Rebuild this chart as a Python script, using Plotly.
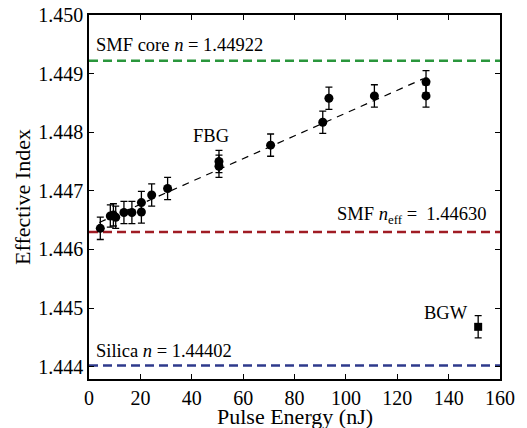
import plotly.graph_objects as go

# FBG data
fbg_energy = [4.4, 8.3, 9.5, 10.4, 13.6, 16.7, 20.4, 20.4, 24.4, 30.6, 50.6, 50.6, 70.7, 91.0, 93.4, 111.1, 131.2, 131.2]
fbg_index = [1.44636, 1.44657, 1.44659, 1.44655, 1.44663, 1.44663, 1.44680, 1.44664, 1.44693, 1.44704,
             1.44750, 1.44742, 1.44778, 1.44817, 1.44858, 1.44862, 1.44886, 1.44862]
fbg_err = [0.00019] * len(fbg_energy)

# BGW data
bgw_energy = [151.5]
bgw_index = [1.44468]
bgw_err = [0.00019]

# Linear fit (endpoints)
fit_energy = [4.0, 130.0]
fit_index = [1.44646, 1.44891]

# Reference lines
ref_values = [1.44922, 1.44630, 1.44402]
ref_colors = ["#2a963c", "#a01c24", "#2e3a8c"]

FONT = "Liberation Serif"

fig = go.Figure()

for v, c in zip(ref_values, ref_colors):
    fig.add_trace(go.Scatter(x=[0, 160], y=[v, v], mode="lines",
                             line=dict(color=c, width=2.5, dash="9px,5px"),
                             showlegend=False, hoverinfo="skip"))

fig.add_trace(go.Scatter(x=fit_energy, y=fit_index, mode="lines",
                         line=dict(color="black", width=1.2, dash="7px,6px"),
                         showlegend=False))

fig.add_trace(go.Scatter(x=fbg_energy, y=fbg_index, mode="markers",
                         marker=dict(symbol="circle", size=9, color="black"),
                         error_y=dict(type="data", array=fbg_err, color="black", thickness=1.3, width=3.5),
                         showlegend=False))

fig.add_trace(go.Scatter(x=bgw_energy, y=bgw_index, mode="markers",
                         marker=dict(symbol="square", size=8, color="black"),
                         error_y=dict(type="data", array=bgw_err, color="black", thickness=1.3, width=3.5),
                         showlegend=False))

ann_font = dict(family=FONT, size=18.5, color="black")
annotations = [
    dict(x=2, y=1.44922, text="SMF core <i>n</i> = 1.44922", xanchor="left", yanchor="bottom", yshift=4),
    dict(x=155.5, y=1.44630, text="SMF <i>n</i><sub>eff</sub> =  1.44630", xanchor="right", yanchor="bottom", yshift=3),
    dict(x=2, y=1.44402, text="Silica <i>n</i> = 1.44402", xanchor="left", yanchor="bottom", yshift=3),
    dict(x=55.3, y=1.44773, text="FBG", xanchor="right", yanchor="bottom"),
    dict(x=148.5, y=1.44471, text="BGW", xanchor="right", yanchor="bottom"),
]
for a in annotations:
    a.update(xref="x", yref="y", showarrow=False, font=ann_font)
annotations.append(dict(x=0.5, y=0, xref="paper", yref="paper", text="Pulse Energy (nJ)",
                        showarrow=False, xanchor="center", yanchor="middle", yshift=-37,
                        font=dict(family=FONT, size=22, color="black")))

axis_common = dict(showline=True, linecolor="black", linewidth=1.5, mirror="ticks",
                   ticks="inside", ticklen=5, tickwidth=1.2, tickcolor="black",
                   showgrid=False, zeroline=False, automargin=False,
                   tickfont=dict(family=FONT, size=20, color="black"))

fig.update_layout(
    width=527, height=428,
    font=dict(family=FONT, color="black"),
    margin=dict(l=89, r=27, t=15, b=49),
    plot_bgcolor="white", paper_bgcolor="white",
    annotations=annotations,
    xaxis=dict(range=[0, 160], tickmode="array", tickvals=list(range(0, 161, 20)),
               **axis_common),
    yaxis=dict(range=[1.44379, 1.450], tickmode="array",
               tickvals=[1.444, 1.445, 1.446, 1.447, 1.448, 1.449, 1.450],
               ticktext=["1.444", "1.445", "1.446", "1.447", "1.448", "1.449", "1.450"],
               title=dict(text="Effective Index", font=dict(family=FONT, size=22, color="black"), standoff=2),
               **axis_common),
)

fig.write_html("out.html")
